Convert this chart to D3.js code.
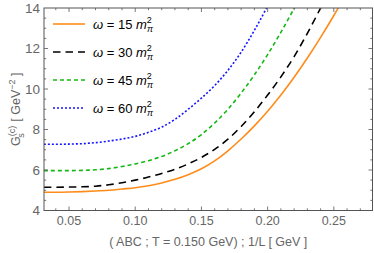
<!DOCTYPE html>
<html lang="en">
<head>
<meta charset="UTF-8">
<script src="https://d3js.org/d3.v7.min.js"></script>
<style>
  body { margin: 0; background: #fff; }
  svg { display: block; font-family: "Liberation Sans", Arial, sans-serif; }
  .tick-label { fill: #666; font-size: 12.5px; }
  .axis-title { fill: #666; font-size: 12.5px; }
  .legend-text { fill: #000; font-size: 13px; }
</style>
</head>
<body>
<svg width="374" height="253"></svg>
<script>
// data
const invL = [0.031, 0.04, 0.05, 0.06, 0.07, 0.08, 0.09, 0.10, 0.11, 0.12, 0.13, 0.14,
              0.15, 0.16, 0.17, 0.18, 0.19, 0.20, 0.21, 0.22, 0.23, 0.24, 0.25, 0.26];
const omega15 = [4.90, 4.90, 4.91, 4.93, 4.96, 5.00, 5.06, 5.12, 5.22, 5.36, 5.54, 5.77,
                 6.06, 6.45, 6.95, 7.53, 8.18, 8.90, 9.70, 10.58, 11.53, 12.55, 13.63, 14.77];
const omega30 = [5.15, 5.15, 5.16, 5.17, 5.20, 5.27, 5.37, 5.50, 5.65, 5.83, 6.04, 6.30,
                 6.62, 7.02, 7.52, 8.15, 8.88, 9.70, 10.60, 11.60, 12.75, 14.00, 15.3, 16.7];
const omega45 = [5.97, 5.97, 5.97, 5.98, 6.01, 6.07, 6.17, 6.30, 6.46, 6.67, 6.95, 7.30,
                 7.75, 8.32, 9.00, 9.80, 10.70, 11.70, 12.80, 13.98, 15.2, 16.5, 17.9, 19.4];
const omega60 = [7.27, 7.27, 7.28, 7.30, 7.35, 7.43, 7.53, 7.66, 7.86, 8.12, 8.50, 9.00,
                 9.55, 10.17, 10.92, 11.82, 12.90, 14.10, 15.4, 16.8, 18.3, 19.9, 21.6, 23.4];
const omegaLabels = ["15", "30", "45", "60"];
const xTicks = [0.05, 0.10, 0.15, 0.20, 0.25];
const yTicks = [4, 6, 8, 10, 12, 14];

const series = [
  { label: omegaLabels[0], values: omega15, color: "#ff8c1a", dash: null, width: 1.6 },
  { label: omegaLabels[1], values: omega30, color: "#000000", dash: "7.5,5", width: 1.6 },
  { label: omegaLabels[2], values: omega45, color: "#14b814", dash: "4,3", width: 1.6 },
  { label: omegaLabels[3], values: omega60, color: "#1414ff", dash: "2,2", width: 1.6 }
];

const svg = d3.select("svg");
const margin = { left: 44, top: 8, right: 1.5, bottom: 42.5 };
const W = 374, H = 253;
const x = d3.scaleLinear().domain([0.0311, 0.2792]).range([margin.left, W - margin.right]);
const y = d3.scaleLinear().domain([4, 14]).range([H - margin.bottom, margin.top]);

svg.append("clipPath").attr("id", "clip")
  .append("rect")
  .attr("x", margin.left).attr("y", margin.top)
  .attr("width", W - margin.left - margin.right)
  .attr("height", H - margin.top - margin.bottom);

// curves
const line = d3.line()
  .x((d, i) => x(invL[i]))
  .y(d => y(d))
  .curve(d3.curveMonotoneX);

const plot = svg.append("g").attr("clip-path", "url(#clip)");
series.forEach(s => {
  plot.append("path")
    .attr("d", line(s.values))
    .attr("fill", "none")
    .attr("stroke", s.color)
    .attr("stroke-width", s.width)
    .attr("stroke-dasharray", s.dash);
});

// frame and ticks
const frameColor = "#555";
const x0 = x.range()[0], x1 = x.range()[1], y0 = y.range()[0], y1 = y.range()[1];
svg.append("rect")
  .attr("x", x0).attr("y", y1)
  .attr("width", x1 - x0).attr("height", y0 - y1)
  .attr("fill", "none").attr("stroke", frameColor).attr("stroke-width", 1);

const xMinor = d3.range(4, 28).map(v => v / 100).filter(v => x(v) > x0 && x(v) < x1);
const yMinor = d3.range(8, 29).map(v => v / 2).filter(v => y(v) < y0 && y(v) > y1);
const tickG = svg.append("g").attr("stroke", frameColor).attr("stroke-width", 0.8);

xMinor.forEach(v => {
  const major = xTicks.some(t => Math.abs(t - v) < 1e-6);
  const len = major ? 4 : 2.2;
  tickG.append("line").attr("x1", x(v)).attr("x2", x(v)).attr("y1", y0).attr("y2", y0 - len);
  tickG.append("line").attr("x1", x(v)).attr("x2", x(v)).attr("y1", y1).attr("y2", y1 + len);
});
yMinor.forEach(v => {
  const major = yTicks.includes(v);
  const len = major ? 4 : 2.2;
  tickG.append("line").attr("x1", x0).attr("x2", x0 + len).attr("y1", y(v)).attr("y2", y(v));
  tickG.append("line").attr("x1", x1).attr("x2", x1 - len).attr("y1", y(v)).attr("y2", y(v));
});

svg.append("g").selectAll("text").data(xTicks).join("text")
  .attr("class", "tick-label")
  .attr("x", d => x(d)).attr("y", y0 + 14)
  .attr("text-anchor", "middle")
  .text(d => d3.format(".2f")(d));

svg.append("g").selectAll("text").data(yTicks).join("text")
  .attr("class", "tick-label")
  .attr("x", x0 - 4).attr("y", d => y(d) + 4.5)
  .attr("text-anchor", "end")
  .style("font-size", "13.5px")
  .text(d => d);

// axis titles
svg.append("text")
  .attr("class", "axis-title")
  .attr("x", (x0 + x1) / 2).attr("y", 246)
  .attr("text-anchor", "middle")
  .text("( ABC ; T = 0.150 GeV) ; 1/L [ GeV ]");

const yt = svg.append("text")
  .attr("class", "axis-title")
  .attr("transform", `translate(20,${(y0 + y1) / 2}) rotate(-90)`)
  .attr("text-anchor", "middle");
yt.append("tspan").text("G");
yt.append("tspan").attr("dy", -5).attr("font-size", "9px").text("(c)");
yt.append("tspan").attr("dx", -12).attr("dy", 9).attr("font-size", "9px").text("s");
yt.append("tspan").attr("dx", 8).attr("dy", -4).text(" [ GeV");
yt.append("tspan").attr("dy", -5).attr("font-size", "9px").text("−2");
yt.append("tspan").attr("dy", 5).text(" ]");

// legend
const leg = svg.append("g");
series.forEach((s, i) => {
  const ly = 24 + i * 28;
  leg.append("line")
    .attr("x1", 53).attr("x2", 85).attr("y1", ly).attr("y2", ly)
    .attr("stroke", s.color).attr("stroke-width", s.width)
    .attr("stroke-dasharray", s.dash);
  const t = leg.append("text").attr("class", "legend-text")
    .attr("x", 93).attr("y", ly + 4.5);
  t.append("tspan").attr("font-style", "italic").text("ω");
  t.append("tspan").text(" = " + s.label + " ");
  t.append("tspan").attr("font-style", "italic").text("m");
  t.append("tspan").attr("dy", -6).attr("font-size", "9px").text("2");
  t.append("tspan").attr("dx", -5).attr("dy", 9).attr("font-size", "9px").attr("font-style", "italic").text("π");
});
</script>
</body>
</html>
